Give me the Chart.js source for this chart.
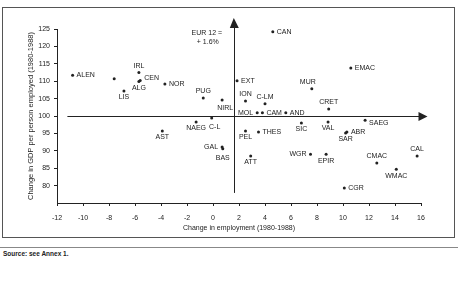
<!DOCTYPE html>
<html>
<head>
<meta charset="utf-8">
<script src="https://cdn.jsdelivr.net/npm/chart.js@4"></script>
<style>
    body { margin: 0; width: 458px; height: 282px; background: #fff; position: relative; overflow: hidden;
           font-family: "Liberation Sans", Arial, sans-serif; }
    #frame { position: absolute; left: 2px; top: 7px; width: 451px; height: 229px; border: 1px solid #555; }
    #chartWrap { position: absolute; left: 0; top: 0; width: 458px; height: 237px; }
    #rule { position: absolute; left: 0; top: 247px; width: 458px; border-top: 1px solid #888; }
    #source { position: absolute; left: 3px; top: 250px; font-size: 6.5px; font-weight: bold; color: #222; }
</style>
</head>
<body>
<div id="frame"></div>
<div id="chartWrap"><canvas id="regionChart" width="458" height="237"></canvas></div>
<div id="rule"></div>
<div id="source">Source: see Annex 1.</div>
<script>
// Regions (codes as printed) and their changes 1980-1988
const regions = ['ALEN', '', 'IRL', 'CEN', 'ALG', 'LIS', 'NOR', 'PUG', 'NIRL', 'NAEG', 'C-L', 'AST',
    'GAL', 'BAS', 'EXT', 'CAN', 'ION', 'C-LM', 'MOL', 'CAM', 'AND', 'PEL', 'THES', 'ATT', 'SIC',
    'MUR', 'CRET', 'VAL', 'WGR', 'EPIR', 'EMAC', 'ABR', 'SAR', 'SAEG', 'CGR', 'CMAC', 'WMAC', 'CAL'];
const employmentChange = [-10.8, -7.6, -5.7, -5.6, -5.7, -6.85, -3.7, -0.75, 0.7, -1.3, -0.1, -3.9,
    0.7, 0.75, 1.85, 4.6, 2.5, 4.0, 3.4, 3.8, 5.6, 2.5, 3.5, 2.9, 6.8,
    7.6, 8.9, 8.85, 7.5, 8.7, 10.6, 10.3, 10.2, 11.7, 10.1, 12.6, 14.1, 15.7];
const gdpChange = [111.7, 110.7, 112.5, 110.2, 109.9, 107.2, 109.2, 105.2, 104.6, 98.3, 99.4, 95.7,
    91.1, 90.6, 110.1, 124.2, 104.3, 103.5, 100.9, 100.9, 100.9, 95.7, 95.4, 88.5, 98.0,
    107.8, 102.0, 98.3, 89.0, 89.0, 113.8, 95.4, 95.1, 98.8, 79.3, 86.5, 84.7, 88.5];

const xTicks = [-12, -10, -8, -6, -4, -2, 0, 2, 4, 6, 8, 10, 12, 14, 16];
const yTicks = [80, 85, 90, 95, 100, 105, 110, 115, 120, 125];

// EUR 12 average, where the cross is drawn
const eurEmployment = 1.6;
const eurGdp = 100;
const eurNote = ['EUR 12 =', '+ 1.6%'];

// where each label sits relative to its dot: r(ight), l(eft), a(bove), b(elow)
const labelPlacement = {
    ALEN: 'r', IRL: 'a', CEN: 'r', ALG: 'b', LIS: 'b', NOR: 'r', PUG: 'a', NIRL: 'b', NAEG: 'b',
    'C-L': 'b', AST: 'b', GAL: 'l', BAS: 'b', EXT: 'r', CAN: 'r', ION: 'a', 'C-LM': 'a', MOL: 'l',
    CAM: 'r', AND: 'r', PEL: 'b', THES: 'r', ATT: 'b', SIC: 'b', MUR: 'a', CRET: 'a', VAL: 'b',
    WGR: 'l', EPIR: 'b', EMAC: 'r', ABR: 'r', SAR: 'b', SAEG: 'r', CGR: 'r', CMAC: 'a', WMAC: 'b', CAL: 'a'
};
const labelNudge = { NIRL: [3, 2], 'C-L': [3, 2], MUR: [-4, 0], SAEG: [0, 3], CEN: [0, -2], BAS: [0, 3] };

const ink = '#222';
const smallFont = '7px "Liberation Sans", Arial, sans-serif';

const pointLabels = {
    id: 'pointLabels',
    afterDatasetsDraw(chart) {
        const ctx = chart.ctx;
        const meta = chart.getDatasetMeta(0);
        ctx.save();
        ctx.font = smallFont;
        ctx.fillStyle = ink;
        meta.data.forEach((pt, i) => {
            const name = regions[i];
            if (!name) return;
            const pos = labelPlacement[name] || 'r';
            const nudge = labelNudge[name] || [0, 0];
            let x = pt.x, y = pt.y;
            if (pos === 'r') { ctx.textAlign = 'left'; ctx.textBaseline = 'middle'; x += 4; }
            if (pos === 'l') { ctx.textAlign = 'right'; ctx.textBaseline = 'middle'; x -= 4; }
            if (pos === 'a') { ctx.textAlign = 'center'; ctx.textBaseline = 'bottom'; y -= 3; }
            if (pos === 'b') { ctx.textAlign = 'center'; ctx.textBaseline = 'top'; y += 3; }
            ctx.fillText(name, x + nudge[0], y + nudge[1]);
        });
        ctx.restore();
    }
};

const eurCross = {
    id: 'eurCross',
    beforeDatasetsDraw(chart) {
        const { ctx, scales: { x, y } } = chart;
        const cx = x.getPixelForValue(eurEmployment);
        const cy = y.getPixelForValue(eurGdp);
        const top = y.getPixelForValue(125) - 11;
        const bottom = y.getPixelForValue(77.9);
        const left = x.getPixelForValue(-11.2);
        const right = x.getPixelForValue(16.5);
        ctx.save();
        ctx.strokeStyle = ink;
        ctx.fillStyle = ink;
        ctx.lineWidth = 1;
        ctx.beginPath();
        ctx.moveTo(Math.round(cx) + 0.5, bottom);
        ctx.lineTo(Math.round(cx) + 0.5, top + 8);
        ctx.moveTo(left, Math.round(cy) + 0.5);
        ctx.lineTo(right - 8, Math.round(cy) + 0.5);
        ctx.stroke();
        // arrow heads
        ctx.beginPath();
        ctx.moveTo(cx, top);
        ctx.lineTo(cx - 4, top + 10);
        ctx.lineTo(cx + 5, top + 10);
        ctx.closePath();
        ctx.fill();
        ctx.beginPath();
        ctx.moveTo(right, cy + 0.5);
        ctx.lineTo(right - 9, cy - 4);
        ctx.lineTo(right - 9, cy + 5);
        ctx.closePath();
        ctx.fill();
        // note
        ctx.font = smallFont;
        ctx.textAlign = 'center';
        ctx.textBaseline = 'middle';
        ctx.fillText(eurNote[0], cx - 27, y.getPixelForValue(123.9));
        ctx.fillText(eurNote[1], cx - 26, y.getPixelForValue(121.3));
        ctx.restore();
    }
};

const axisFont = { family: '"Liberation Sans", Arial, sans-serif', size: 7 };
const yTitleFont = { family: '"Liberation Sans", Arial, sans-serif', size: 7.5 };

new Chart(document.getElementById('regionChart'), {
    type: 'scatter',
    data: {
        datasets: [{
            data: employmentChange.map((v, i) => ({ x: v, y: gdpChange[i] })),
            backgroundColor: ink,
            borderWidth: 0,
            pointRadius: 1.5
        }]
    },
    options: {
        responsive: false,
        animation: false,
        events: [],
        layout: { padding: { top: 29, right: 37, left: 0, bottom: 0 } },
        plugins: { legend: { display: false }, tooltip: { enabled: false } },
        scales: {
            x: {
                min: -12, max: 16,
                afterBuildTicks: s => { s.ticks = xTicks.map(v => ({ value: v })); },
                afterFit: s => { s.height = 34; },
                grid: { drawOnChartArea: false, drawTicks: true, tickLength: 3, color: ink },
                border: { display: true, color: ink, width: 1 },
                ticks: { color: ink, font: axisFont, padding: 8, maxRotation: 0 },
                title: { display: true, text: 'Change in employment (1980-1988)', color: ink, font: axisFont,
                         padding: { top: 0, bottom: 5 } }
            },
            y: {
                min: 75, max: 125,
                afterBuildTicks: s => { s.ticks = yTicks.map(v => ({ value: v })); },
                afterFit: s => { s.width = 57; },
                grid: { drawOnChartArea: false, drawTicks: true, tickLength: 3, color: ink },
                border: { display: true, color: ink, width: 1 },
                ticks: { color: ink, font: axisFont, padding: 4 },
                title: { display: true, text: 'Change in GDP per person employed (1980-1988)', color: ink, font: yTitleFont,
                         padding: { top: 26, bottom: 0 } }
            }
        }
    },
    plugins: [eurCross, pointLabels]
});
</script>
</body>
</html>
